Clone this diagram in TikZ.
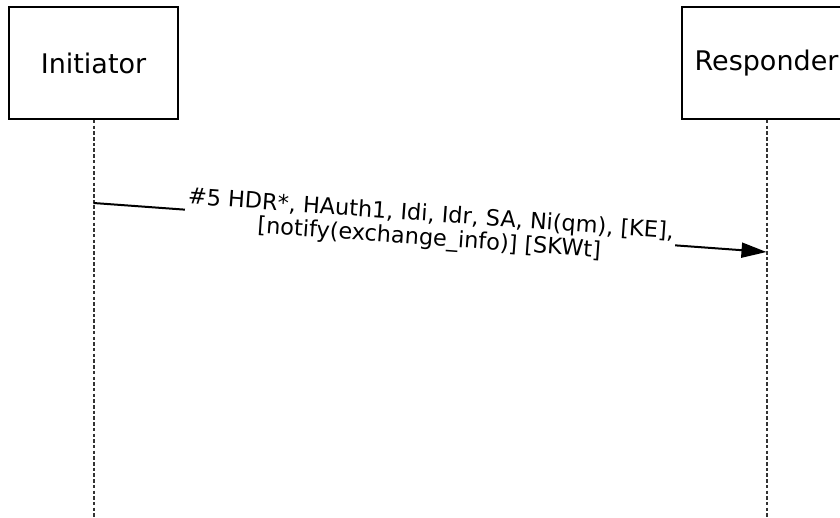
\documentclass[tikz,border=0pt]{standalone}
\usepackage{fontspec}
\setmainfont{DejaVu Sans}
\usetikzlibrary{arrows.meta}
\begin{document}
\begin{tikzpicture}[x=1pt,y=-1pt,
  actor/.style={draw, line width=2pt, minimum width=169pt, minimum height=112pt, inner sep=0pt, font=\fontsize{27}{30}\selectfont},
  lifeline/.style={line width=2pt, dash pattern=on 3.5pt off 2.2pt, black!80},
  msg/.style={line width=2pt, -{Triangle[length=25pt,width=15pt]}},
  msglabel/.style={fill=white, inner sep=2pt, align=center, font=\fontsize{22.4}{24}\selectfont}]
\useasboundingbox (0,0) rectangle (840,518);
\clip (0,0) rectangle (840,518);
\node[actor] (ini) at (93.5,63) {Initiator};
\node[actor] (res) at (766.5,63) {Responder};
\coordinate (iniend) at (93.5,518);
\coordinate (resend) at (766.5,518);
\draw[lifeline] (ini.south) -- (iniend);
\draw[lifeline] (res.south) -- (resend);
\coordinate (m1s) at (93.5,203);
\coordinate (m1e) at (766.5,252);
\draw[msg] (m1s) -- (m1e) node[midway, sloped, msglabel] {\#5 HDR*, HAuth1, Idi, Idr, SA, Ni(qm), [KE],\\{}[notify(exchange\_info)] [SKWt]};
\end{tikzpicture}
\end{document}
